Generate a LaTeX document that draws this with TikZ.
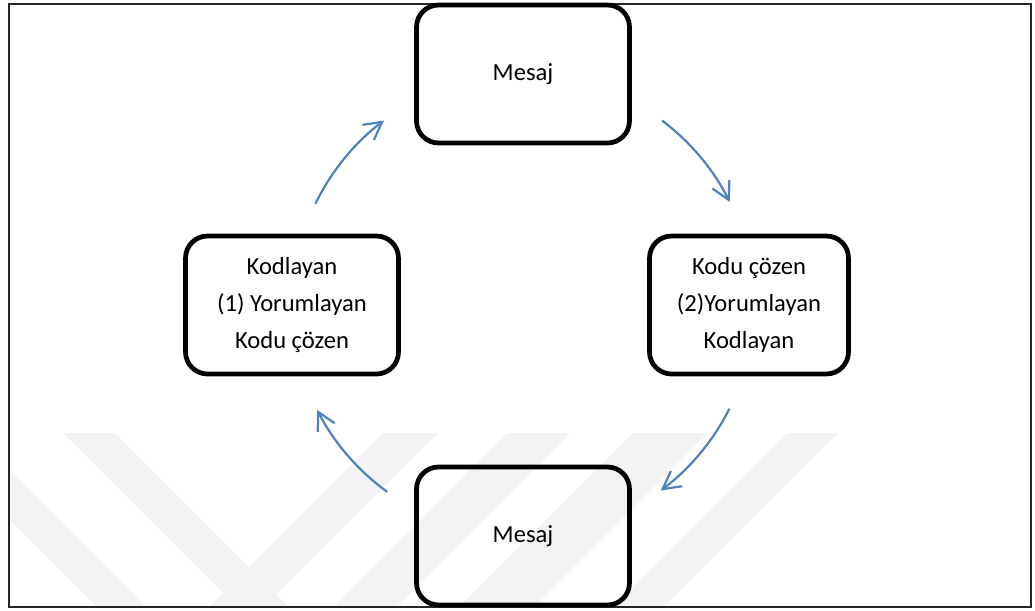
\documentclass[tikz,border=0pt]{standalone}
\usepackage{fontspec}
\setmainfont{Carlito}
\usetikzlibrary{arrows.meta}
\definecolor{arrowblue}{RGB}{79,129,189}
\definecolor{wmgray}{RGB}{243,243,243}
\begin{document}
\begin{tikzpicture}[x=0.02cm,y=0.02cm,
  box/.style={draw=black, line width=2.7pt, rounded corners=4.4mm,
    minimum width=4.26cm, minimum height=2.76cm, align=center,
    font=\fontsize{14}{21}\selectfont, inner sep=0pt},
  flow/.style={draw=arrowblue, line width=1.25pt,
    -{Straight Barb[length=3.5mm,width=3.8mm]}},
  wm/.style={fill=wmgray, draw=none},
  frame/.style={draw=black!85, line width=0.9pt}]
\useasboundingbox (0,0) rectangle (1035,610);
% faint watermark
\begin{scope}
  \clip (10,4) rectangle (1030,605);
  \fill[wm] (-77,177) -- (-27,177) -- (183,-33) -- (133,-33) -- cycle;
  \fill[wm] (63,177) -- (115,177) -- (325,-33) -- (273,-33) -- cycle;
  \fill[wm] (383,177) -- (438,177) -- (228,-33) -- (173,-33) -- cycle;
  \fill[wm] (507,177) -- (570,177) -- (360,-33) -- (297,-33) -- cycle;
  \fill[wm] (633,177) -- (708,177) -- (498,-33) -- (423,-33) -- cycle;
  \fill[wm] (787,177) -- (838,177) -- (628,-33) -- (577,-33) -- cycle;
\end{scope}
% frame
\draw[frame] (9,3) rectangle (1031,606);
% nodes
\node[box] (top) at (523,536) {Mesaj};
\node[box] (bottom) at (523,74) {Mesaj};
\node[box] (left) at (292,305) {Kodlayan\\(1) Yorumlayan\\Kodu çözen};
\node[box, minimum width=3.98cm] (right) at (749,305) {Kodu çözen\\(2)Yorumlayan\\Kodlayan};
% cycle arrows
\coordinate (c) at (523,305);
\draw[flow] ([shift={(154:231)}]c) arc[start angle=154, end angle=127, radius=231];
\draw[flow] ([shift={(53:231)}]c) arc[start angle=53, end angle=26.5, radius=231];
\draw[flow] ([shift={(-26.7:231)}]c) arc[start angle=-26.7, end angle=-53.4, radius=231];
\draw[flow] ([shift={(-126:231)}]c) arc[start angle=-126, end angle=-153, radius=231];
\end{tikzpicture}
\end{document}
